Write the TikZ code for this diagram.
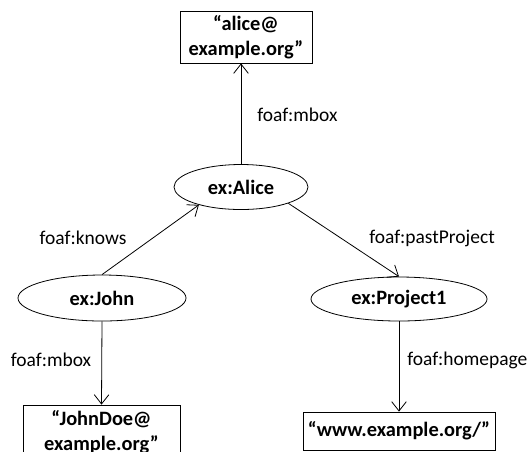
\documentclass[tikz,border=0pt]{standalone}
\usepackage{fontspec}
\setmainfont{Carlito}
\usetikzlibrary{arrows, arrows.meta}
\usetikzlibrary{shapes.geometric}

\begin{document}
\begin{tikzpicture}[x=0.75pt, y=-0.75pt,
    res/.style={ellipse, draw, line width=0.6pt, inner sep=0pt, font=\fontsize{15.3}{18.75}\selectfont\bfseries},
    lit/.style={rectangle, draw, line width=0.6pt, inner sep=0pt, align=center, font=\fontsize{15.3}{18.75}\selectfont\bfseries},
    prop/.style={inner sep=0pt, font=\fontsize{14.6}{18}\selectfont},
    rel/.style={line width=0.6pt, -{Straight Barb[length=7pt, width=11pt]}}]
      \useasboundingbox (0,0) rectangle (530,451);
      \clip (0,0) rectangle (530,451);

      \node[lit, minimum width=99pt, minimum height=39pt] (abox) at (246,37) {“alice@\\example.org”};
      \node[res, minimum width=100.5pt, minimum height=33.75pt] (alice) at (241,187) {ex:Alice};
      \node[res, minimum width=126pt, minimum height=34.5pt] (john) at (102,298) {ex:John};
      \node[res, minimum width=132pt, minimum height=33pt] (proj) at (399,299) {ex:Project1};
      \node[lit, minimum width=117.75pt, minimum height=40.5pt] (jbox) at (101.5,432) {“JohnDoe@\\example.org”};
      \node[lit, minimum width=144pt, minimum height=28.5pt] (wbox) at (399,431) {“www.example.org/”};

      \node[prop, anchor=west] (mboxa) at (257,115) {foaf:mbox};
      \node[prop] (knows) at (83,238) {foaf:knows};
      \node[prop] (past) at (432,238) {foaf:pastProject};
      \node[prop] (mboxj) at (51,360) {foaf:mbox};
      \node[prop, anchor=west] (home) at (407,360) {foaf:homepage};

      \draw[rel] (alice.north) -- (alice.north |- abox.south);
      \draw[rel] (john.north) -- (alice.203);
      \draw[rel] (alice.341) -- (proj.north);
      \draw[rel] (john.south) -- (jbox.north);
      \draw[rel] (proj.south) -- (wbox.north);
    \end{tikzpicture}
\end{document}
